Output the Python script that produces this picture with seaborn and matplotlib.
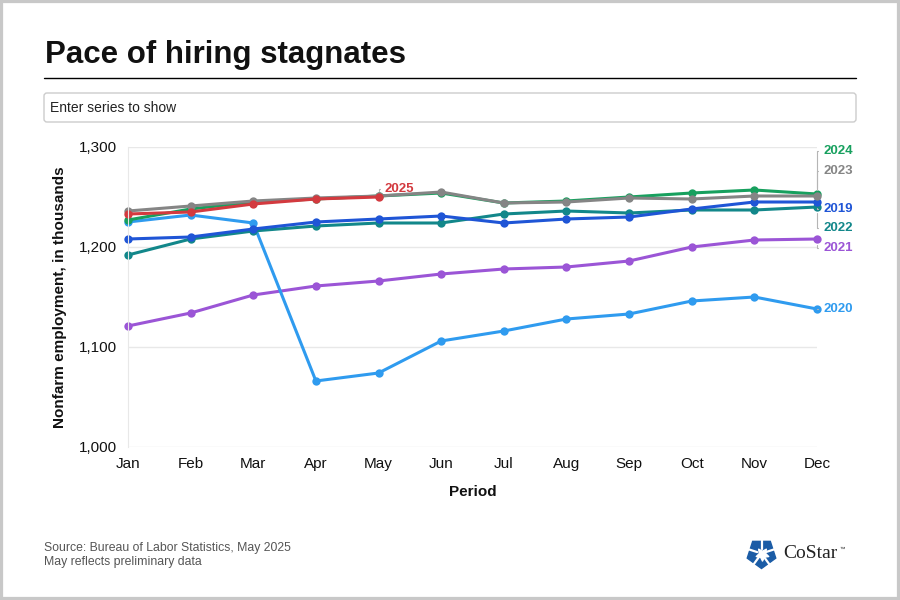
import seaborn as sns
import matplotlib.pyplot as plt
import pandas as pd
import numpy as np
from matplotlib.patches import FancyBboxPatch, Rectangle, RegularPolygon
from matplotlib.lines import Line2D

# Nonfarm employment (thousands) by month
months = ["Jan", "Feb", "Mar", "Apr", "May", "Jun",
          "Jul", "Aug", "Sep", "Oct", "Nov", "Dec"]
emp_2019 = [1208, 1210, 1218, 1225, 1228, 1231, 1224, 1228, 1230, 1238, 1245, 1245]
emp_2020 = [1225, 1232, 1224, 1066, 1074, 1106, 1116, 1128, 1133, 1146, 1150, 1138]
emp_2021 = [1121, 1134, 1152, 1161, 1166, 1173, 1178, 1180, 1186, 1200, 1207, 1208]
emp_2022 = [1192, 1208, 1216, 1221, 1224, 1224, 1233, 1236, 1234, 1237, 1237, 1240]
emp_2023 = [1236, 1241, 1246, 1249, 1251, 1255, 1244, 1245, 1249, 1248, 1251, 1251]
emp_2024 = [1227, 1238, 1245, 1248, 1251, 1254, 1244, 1246, 1250, 1254, 1257, 1253]
emp_2025 = [1233, 1235, 1243, 1248, 1250]

series = {"2019": emp_2019, "2020": emp_2020, "2021": emp_2021, "2022": emp_2022,
          "2023": emp_2023, "2024": emp_2024, "2025": emp_2025}
draw_order = ["2021", "2020", "2022", "2019", "2024", "2023", "2025"]
colors = {"2019": "#1f55d6", "2020": "#2f9bef", "2021": "#9b55d6", "2022": "#12878a",
          "2023": "#858585", "2024": "#17a05e", "2025": "#d33a3f"}

rows = []
for year, vals in series.items():
    for i, v in enumerate(vals):
        rows.append((i, months[i], year, v))
df = pd.DataFrame(rows, columns=["x", "Month", "Year", "Employment"])

sns.set_style("white")
plt.rcParams["font.family"] = ["Liberation Sans", "DejaVu Sans"]

fig = plt.figure(figsize=(9, 6), dpi=100)
W, H = 900, 600

# outer frame
fig.add_artist(Rectangle((0, 0), 9, 6, transform=fig.dpi_scale_trans,
                         fill=False, edgecolor="#c8c8c8", lw=4.5))

# title + rule
fig.text(45 / W, 1 - 55 / H, "Pace of hiring stagnates", fontsize=22.5,
         fontweight="bold", va="center", ha="left", color="#111111")
fig.add_artist(Line2D([44 / W, 856 / W], [1 - 78 / H] * 2, color="black", lw=1))

# search box
fig.add_artist(FancyBboxPatch((0.44, (H - 122) / 100), 8.12, 0.29,
                              boxstyle="round,pad=0,rounding_size=0.03",
                              transform=fig.dpi_scale_trans, facecolor="white",
                              edgecolor="#cccccc", lw=1))
fig.text(50 / W, 1 - 108 / H, "Enter series to show", fontsize=10,
         va="center", ha="left", color="#222222")

ax = fig.add_axes([128 / W, 1 - 447 / H, (817 - 128) / W, 300 / H])

sns.lineplot(data=df, x="x", y="Employment", hue="Year", hue_order=draw_order,
             palette=colors, marker="o", markersize=6, markeredgewidth=0,
             linewidth=2.2, legend=False, errorbar=None, ax=ax)
for ln in ax.lines:
    ln.set_clip_on(False)

ax.set_xlim(0, 11)
ax.set_ylim(1000, 1300)
ax.set_xticks(range(len(months)))
ax.set_xticklabels(months)
ax.set_yticks([1000, 1100, 1200, 1300])
ax.set_yticklabels(["1,000", "1,100", "1,200", "1,300"])
ax.grid(axis="y", color="#e8e8e8", lw=1)
ax.grid(axis="x", visible=False)
for s in ["top", "right", "bottom"]:
    ax.spines[s].set_visible(False)
ax.spines["left"].set_color("#e8e8e8")
ax.tick_params(axis="both", colors="#e0e0e0", labelcolor="#111111",
               labelsize=11, length=4, width=1, direction="out")
ax.tick_params(axis="y", pad=4)
ax.tick_params(axis="x", pad=3.5)

ax.set_xlabel("Period", fontsize=11, fontweight="bold", color="#111111")
ax.set_ylabel("Nonfarm employment, in thousands", fontsize=11,
              fontweight="bold", color="#111111")
ax.xaxis.set_label_coords(0.5, -0.125)
ax.yaxis.set_label_coords(-0.088, 0.5)

# end labels with leaders
label_offsets = {"2024": 43, "2023": 25, "2019": -7, "2022": -21, "2021": -9, "2020": 0}
for year, dy in label_offsets.items():
    ax.annotate(year, xy=(11, series[year][-1]), xytext=(6, dy),
                textcoords="offset pixels", ha="left", va="center",
                color=colors[year], fontsize=9.5, fontweight="bold",
                annotation_clip=False,
                arrowprops=dict(arrowstyle="-", color="#b5b5b5", lw=0.8,
                                shrinkA=1, shrinkB=4, relpos=(0, 0.5),
                                connectionstyle="angle,angleA=0,angleB=90,rad=0"))

ax.annotate("2025", xy=(4, emp_2025[-1]), xytext=(6, 8),
            textcoords="offset pixels", ha="left", va="center",
            color=colors["2025"], fontsize=9.5, fontweight="bold",
            annotation_clip=False,
            arrowprops=dict(arrowstyle="-", color="#b5b5b5", lw=0.8,
                            shrinkA=1, shrinkB=4, relpos=(0, 0.5),
                            connectionstyle="angle,angleA=0,angleB=90,rad=0"))

# footer
fig.text(44 / W, 1 - 548 / H, "Source: Bureau of Labor Statistics, May 2025",
         fontsize=8.8, color="#555555", va="center", ha="left")
fig.text(44 / W, 1 - 562 / H, "May reflects preliminary data",
         fontsize=8.8, color="#555555", va="center", ha="left")

# logo
lax = fig.add_axes([745 / W, 1 - 570 / H, 33 / W, 33 / H])
lax.set_xlim(-1.1, 1.1)
lax.set_ylim(-1.1, 1.1)
lax.set_aspect("equal")
lax.axis("off")
lax.add_patch(RegularPolygon((0, 0), 5, radius=1.0, orientation=np.pi / 5,
                             color="#1b5ca6"))
lax.scatter([0], [0], marker=(5, 1, 36), s=90, color="white", zorder=3)
for k in range(5):
    a = np.pi / 2 + k * 2 * np.pi / 5
    lax.plot([0.3 * np.cos(a), 1.1 * np.cos(a)], [0.3 * np.sin(a), 1.1 * np.sin(a)],
             color="white", lw=1.6, zorder=4)
fig.text(783 / W, 1 - 554 / H, "CoStar", fontsize=14, family="Liberation Serif",
         color="#222222", va="center", ha="left")
fig.text(840 / W, 1 - 549 / H, "™", fontsize=4, color="#222222", va="center", ha="left")

plt.savefig("out.png", dpi=100)
